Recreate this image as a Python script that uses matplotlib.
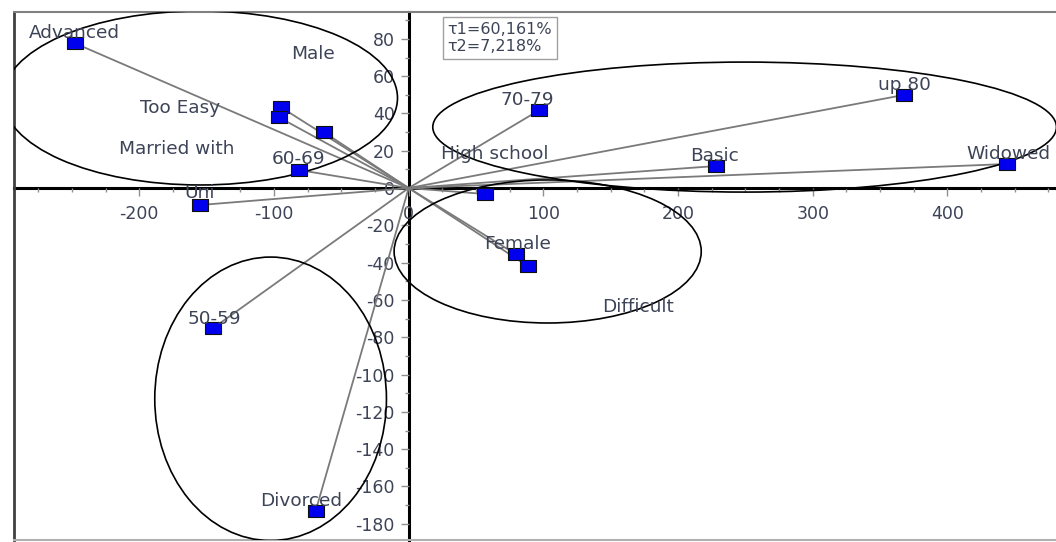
import numpy as np
import matplotlib
matplotlib.use("Agg")
import matplotlib.pyplot as plt
from matplotlib.path import Path
from matplotlib.patches import Ellipse

# category coordinates on the first two factorial axes
categories = ["Advanced", "Male", "Too Easy", "Married with", "60-69", "Uni",
              "50-59", "Divorced", "70-79", "up 80", "Basic", "Widowed",
              "High school", "Female", "Difficult"]
axis1 = [-248, -95, -96.5, -63, -81.7, -155, -145, -69, 97, 367.5, 228, 444,
         57, 79.4, 88.3]
axis2 = [77.7, 43.4, 38, 30, 9.7, -9.1, -75, -173, 41.8, 49.9, 11.8, 12.9,
         -3.2, -35.4, -41.8]

# where each category name is written
label_x = [-248, -71, -170, -172, -82, -155, -144, -80, 88, 368, 227, 445,
           64, 81, 170]
label_y = [83, 72, 43, 21, 15.5, -2.7, -70, -168, 47, 55, 17, 18, 18, -30, -64]

# cluster ellipses: centre x, centre y, width, height
clusters = [(-154.8, 48.3, 293, 93.3),
            (249.4, 32.7, 463, 69.7),
            (103.2, -34, 228, 76.7),
            (-102.5, -113, 172, 152)]

inertia = ["τ1=60,161%", "τ2=7,218%"]

txt = "#3d4457"
plt.rcParams["font.family"] = ["DejaVu Sans"]
plt.rcParams["axes.unicode_minus"] = False

fig = plt.figure(figsize=(10.56, 5.42), dpi=100)
ax = fig.add_axes([14 / 1056, 2 / 542, 1045 / 1056, 528 / 542])
ax.set_xlim(-293, -293 + 1045 / 1.347)
ax.set_ylim(-188.7, 94.4)

# frame around the plot
for s in ["top", "right"]:
    ax.spines[s].set_color("#808080")
    ax.spines[s].set_linewidth(1.5)
ax.plot([0, 0], [0, 1], transform=ax.transAxes, color="#404040", lw=2, clip_on=False)
ax.plot([0, 1], [0, 0], transform=ax.transAxes, color="#b0b0b0", lw=1.5, clip_on=False)

# axes through the origin
ax.spines["left"].set_position(("data", 0))
ax.spines["bottom"].set_position(("data", 0))
ax.spines["left"].set_linewidth(2.2)
ax.spines["bottom"].set_linewidth(2.2)
ax.spines["left"].set_zorder(1)
ax.spines["bottom"].set_zorder(1)

ax.set_xticks(np.arange(-200, 401, 100))
ax.set_yticks(np.arange(-180, 81, 20))
ax.set_xticks(np.arange(-275, 481, 25), minor=True)
ax.set_yticks(np.arange(-180, 91, 10), minor=True)
ax.tick_params(axis="both", which="major", length=6, width=1, color="#909090",
               labelsize=12.5, labelcolor=txt, pad=4)
ax.tick_params(axis="x", which="major", pad=6)
ax.tick_params(axis="both", which="minor", length=3, width=1, color="#909090")

# rays from the origin
for x, y in zip(axis1, axis2):
    ax.plot([0, x], [0, y], color="#7a7a7a", lw=1.3, zorder=2)

box = Path([(-1, -0.73), (1, -0.73), (1, 0.73), (-1, 0.73), (-1, -0.73)],
           [Path.MOVETO, Path.LINETO, Path.LINETO, Path.LINETO, Path.CLOSEPOLY])
ax.plot(axis1, axis2, ls="none", marker=box, markersize=11,
        markerfacecolor="#0000ee", markeredgecolor="#101010", markeredgewidth=0.8,
        zorder=4)

for cx, cy, w, h in clusters:
    ax.add_patch(Ellipse((cx, cy), w, h, fill=False, ec="black", lw=1.2, zorder=3))

for name, x, y in zip(categories, label_x, label_y):
    ax.text(x, y, name, ha="center", va="center", fontsize=13.3, color=txt, zorder=5)

ax.text(0.415, 0.982, "\n".join(inertia), transform=ax.transAxes, ha="left", va="top",
        fontsize=11.5, color=txt, linespacing=1.2,
        bbox=dict(boxstyle="square,pad=0.3", fc="white", ec="#a0a0a0", lw=1))

fig.savefig("out.png", dpi=100)
